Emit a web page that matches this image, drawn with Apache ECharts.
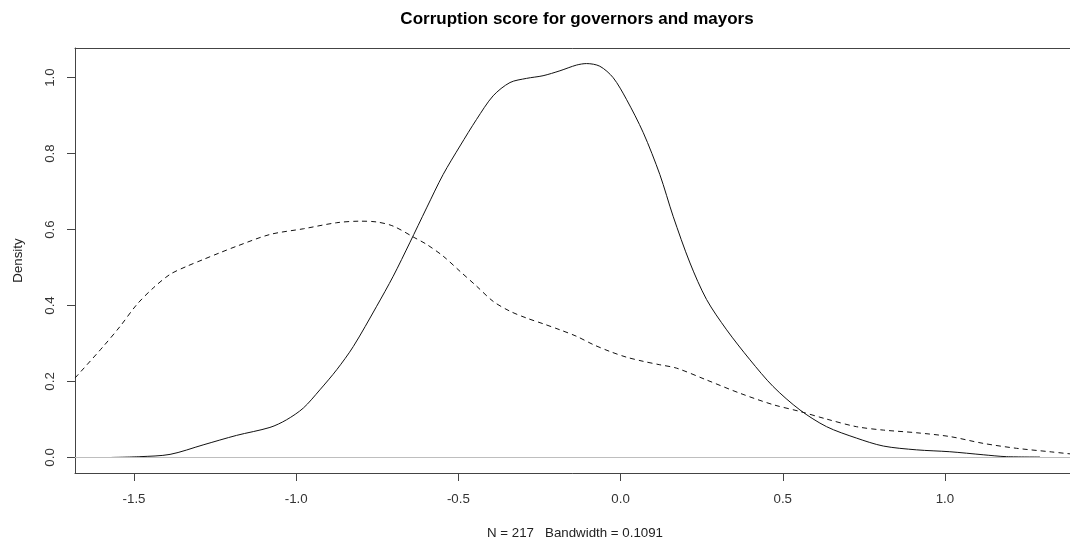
<!DOCTYPE html>
<html>
<head>
<meta charset="utf-8">
<script src="https://cdn.jsdelivr.net/npm/echarts@6/dist/echarts.min.js"></script>
<style>
html,body{margin:0;padding:0;background:#fff;}
#chart{width:1070px;height:542px;}
</style>
</head>
<body>
<div id="chart"></div>
<script>
// ---- data ----
const titleText = 'Corruption score for governors and mayors';
const xAxisTitle = 'N = 217   Bandwidth = 0.1091';
const yAxisTitle = 'Density';
const xTicks = [-1.5, -1.0, -0.5, 0.0, 0.5, 1.0];
const yTicks = [0.0, 0.2, 0.4, 0.6, 0.8, 1.0];

const solidX = [-1.569, -1.482, -1.389, -1.287, -1.184, -1.081, -1.030, -0.978, -0.927, -0.875, -0.824, -0.752, -0.701, -0.650, -0.598, -0.547, -0.495, -0.444, -0.393, -0.341, -0.290, -0.239, -0.187, -0.136, -0.105, -0.064, -0.023, 0.018, 0.070, 0.121, 0.162, 0.214, 0.265, 0.327, 0.399, 0.470, 0.553, 0.635, 0.727, 0.810, 0.912, 1.015, 1.118, 1.190, 1.293];
const solidY = [0.000, 0.002, 0.008, 0.033, 0.058, 0.079, 0.099, 0.130, 0.178, 0.231, 0.292, 0.398, 0.477, 0.565, 0.657, 0.745, 0.820, 0.890, 0.952, 0.987, 0.998, 1.005, 1.018, 1.033, 1.037, 1.030, 1.000, 0.943, 0.855, 0.745, 0.635, 0.512, 0.416, 0.336, 0.257, 0.187, 0.125, 0.081, 0.051, 0.030, 0.020, 0.015, 0.007, 0.002, 0.001];

const dashedX = [-1.682, -1.595, -1.543, -1.492, -1.441, -1.389, -1.338, -1.287, -1.235, -1.184, -1.081, -0.978, -0.875, -0.804, -0.752, -0.701, -0.634, -0.598, -0.547, -0.495, -0.444, -0.393, -0.341, -0.290, -0.239, -0.187, -0.136, -0.084, -0.033, 0.018, 0.070, 0.121, 0.173, 0.265, 0.368, 0.470, 0.553, 0.635, 0.727, 0.810, 0.912, 1.015, 1.118, 1.221, 1.323, 1.401];
const dashedY = [0.209, 0.292, 0.345, 0.402, 0.446, 0.482, 0.503, 0.521, 0.539, 0.556, 0.587, 0.602, 0.618, 0.622, 0.620, 0.609, 0.578, 0.561, 0.530, 0.490, 0.451, 0.411, 0.385, 0.367, 0.352, 0.336, 0.319, 0.297, 0.279, 0.264, 0.253, 0.244, 0.235, 0.204, 0.169, 0.139, 0.121, 0.101, 0.081, 0.072, 0.065, 0.055, 0.037, 0.024, 0.015, 0.008];

const xRange = [-1.682, 1.401];
const yRange = [-0.041, 1.078];

// ---- chart ----
const chart = echarts.init(document.getElementById('chart'), null, {renderer: 'canvas'});
const font = 'Liberation Sans, Arial, sans-serif';
const fmt = v => Number(v).toFixed(1);
const axisColor = '#444';

chart.setOption({
  animation: false,
  backgroundColor: '#fff',
  title: {
    text: titleText,
    left: 572,
    top: 6,
    textAlign: 'center',
    textStyle: {fontFamily: font, fontSize: 17, fontWeight: 'bold', color: '#000'}
  },
  grid: {
    left: 75, top: 48, width: 1000, height: 425,
    show: false,
    containLabel: false, outerBoundsMode: 'none'
  },
  xAxis: [{
    type: 'value',
    min: xRange[0], max: xRange[1],
    name: xAxisTitle,
    nameLocation: 'middle',
    nameGap: 54,
    nameTextStyle: {fontFamily: font, fontSize: 13.3, color: '#222'},
    axisLine: {show: true, onZero: false, lineStyle: {color: axisColor}},
    axisTick: {show: true, length: 8, customValues: xTicks, lineStyle: {color: axisColor}},
    axisLabel: {customValues: xTicks, formatter: fmt, margin: 20, fontFamily: font, fontSize: 13.3, color: '#333'},
    splitLine: {show: false}
  }, {
    type: 'value',
    position: 'top',
    min: xRange[0], max: xRange[1],
    axisLine: {show: true, onZero: false, lineStyle: {color: axisColor}},
    axisTick: {show: false},
    axisLabel: {show: false},
    splitLine: {show: false}
  }],
  yAxis: {
    type: 'value',
    min: yRange[0], max: yRange[1],
    name: yAxisTitle,
    nameLocation: 'middle',
    nameRotate: 90,
    nameGap: 50,
    nameTextStyle: {fontFamily: font, fontSize: 13.3, color: '#222'},
    axisLine: {show: true, onZero: false, lineStyle: {color: axisColor}},
    axisTick: {show: true, length: 8, customValues: yTicks, lineStyle: {color: axisColor}},
    axisLabel: {customValues: yTicks, formatter: fmt, rotate: 90, margin: 18, fontFamily: font, fontSize: 13.3, color: '#333'},
    splitLine: {show: false}
  },
  series: [
    {
      name: 'solid',
      type: 'line',
      data: solidX.map((x, i) => [x, solidY[i]]),
      showSymbol: false,
      smooth: 0.3,
      clip: true,
      lineStyle: {color: '#111', width: 1},
      markLine: {
        silent: true,
        symbol: 'none',
        label: {show: false},
        lineStyle: {color: '#bebebe', type: 'solid', width: 1},
        data: [{yAxis: 0}]
      },
      z: 3
    },
    {
      name: 'dashed',
      type: 'line',
      data: dashedX.map((x, i) => [x, dashedY[i]]),
      showSymbol: false,
      smooth: 0.3,
      clip: true,
      lineStyle: {color: '#111', width: 1, type: [5, 4]},
      z: 3
    }
  ]
});
</script>
</body>
</html>
